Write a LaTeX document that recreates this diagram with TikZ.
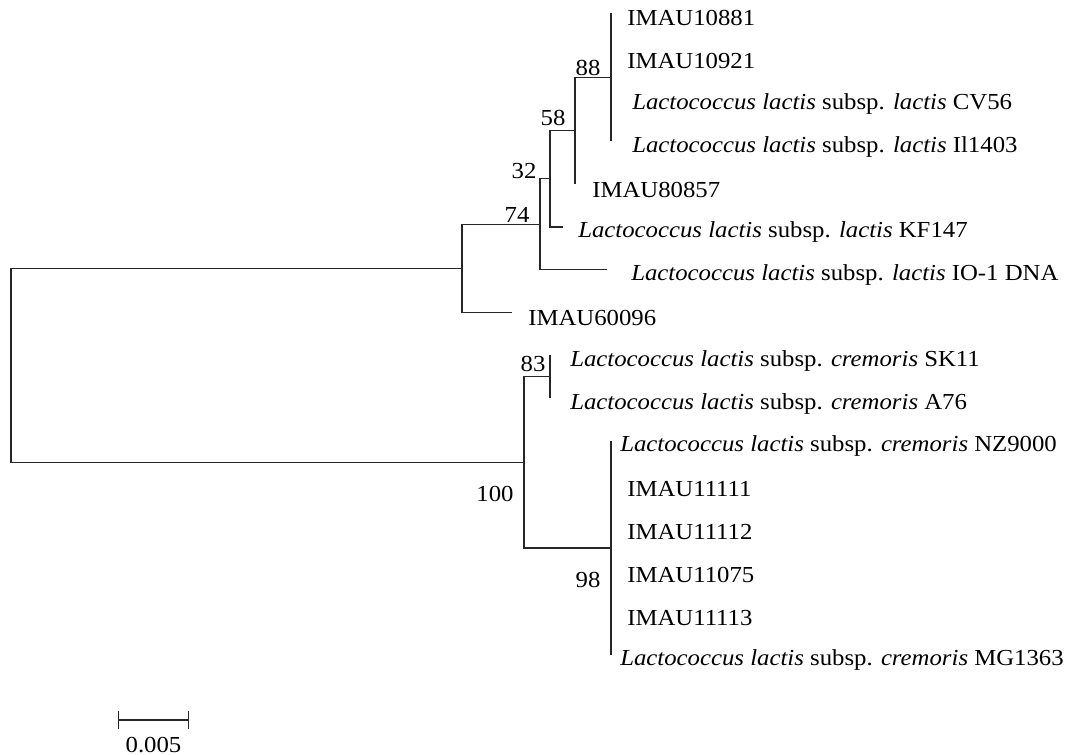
\documentclass[tikz,border=0pt]{standalone}
\usepackage{fontspec}
\setmainfont{Liberation Serif}[FakeStretch=1.08]
\usetikzlibrary{arrows.meta,positioning,calc}
\newcommand{\Llac}{\textit{Lactococcus lactis}}

\begin{document}
\begin{tikzpicture}[
    x=0.75pt, y=-0.75pt,
    font=\fontsize{17.2}{20}\selectfont,
    branch/.style={line width=0.9pt, black!85},
    leaf/.style={inner sep=0pt, yshift=-4pt},
    boot/.style={inner sep=0pt},
    scalebar/.style={line width=0.9pt, black!85, {Bar[width=13.5pt]}-{Bar[width=13.5pt]}},
]
\useasboundingbox (0,0) rectangle (1066,755);

% tips
\foreach \i/\x in {0/611,1/611,2/611,3/611,4/575,5/563,6/607,7/512,
                   8/550,9/550,10/611,11/611,12/611,13/611,14/611,15/611}
    \coordinate (t\i) at (\x,{13+42.8*\i});

% internal nodes
\coordinate (n88) at (611,77.2);
\coordinate (n58) at (575,130.7);
\coordinate (n32) at (550,178.9);
\coordinate (n74) at (540,224.3);
\coordinate (nA) at (462,268.5);
\coordinate (n83) at (550,376.8);
\coordinate (n98) at (611,548);
\coordinate (n100) at (524,462.4);
\coordinate (root) at (11,365.4);

% branches
\foreach \a/\b in {root/nA, root/n100, nA/n74, nA/t7, n74/n32, n74/t6,
                   n32/n58, n32/t5, n58/n88, n58/t4, n88/t0, n88/t3,
                   n100/n83, n100/n98, n83/t8, n83/t9, n98/t10, n98/t15}
    \draw[branch] (\a) |- (\b);

% leaf labels
\node[leaf, right=12pt of t0] (l0) {IMAU10881};
\node[leaf, right=12pt of t1] (l1) {IMAU10921};
\node[leaf, right=15.75pt of t2] (l2) {\Llac{} subsp. \textit{lactis} CV56};
\node[leaf, right=15.75pt of t3] (l3) {\Llac{} subsp. \textit{lactis} Il1403};
\node[leaf, right=12.75pt of t4] (l4) {IMAU80857};
\node[leaf, right=11.25pt of t5] (l5) {\Llac{} subsp. \textit{lactis} KF147};
\node[leaf, right=18pt of t6] (l6) {\Llac{} subsp. \textit{lactis} IO-1 DNA};
\node[leaf, right=12pt of t7] (l7) {IMAU60096};
\node[leaf, right=15pt of t8] (l8) {\Llac{} subsp. \textit{cremoris} SK11};
\node[leaf, right=15pt of t9] (l9) {\Llac{} subsp. \textit{cremoris} A76};
\node[leaf, right=6.75pt of t10] (l10) {\Llac{} subsp. \textit{cremoris} NZ9000};
\node[leaf, right=12pt of t11] (l11) {IMAU11111};
\node[leaf, right=12pt of t12] (l12) {IMAU11112};
\node[leaf, right=12pt of t13] (l13) {IMAU11075};
\node[leaf, right=12pt of t14] (l14) {IMAU11113};
\node[leaf, right=6.75pt of t15] (l15) {\Llac{} subsp. \textit{cremoris} MG1363};

% bootstrap values
\node[boot] (b88) at (588,68) {88};
\node[boot] (b58) at (553,118) {58};
\node[boot] (b32) at (524,171) {32};
\node[boot] (b74) at (517,215) {74};
\node[boot] (b83) at (533,364) {83};
\node[boot] (b100) at (495,494) {100};
\node[boot] (b98) at (588,580) {98};

% scale
\coordinate (s1) at (118,720);
\coordinate (s2) at (189,720);
\draw[scalebar] (s1) -- (s2);
\node[boot, below=12.5pt of $(s1)!0.5!(s2)$] (sl) {0.005};
\end{tikzpicture}
\end{document}
